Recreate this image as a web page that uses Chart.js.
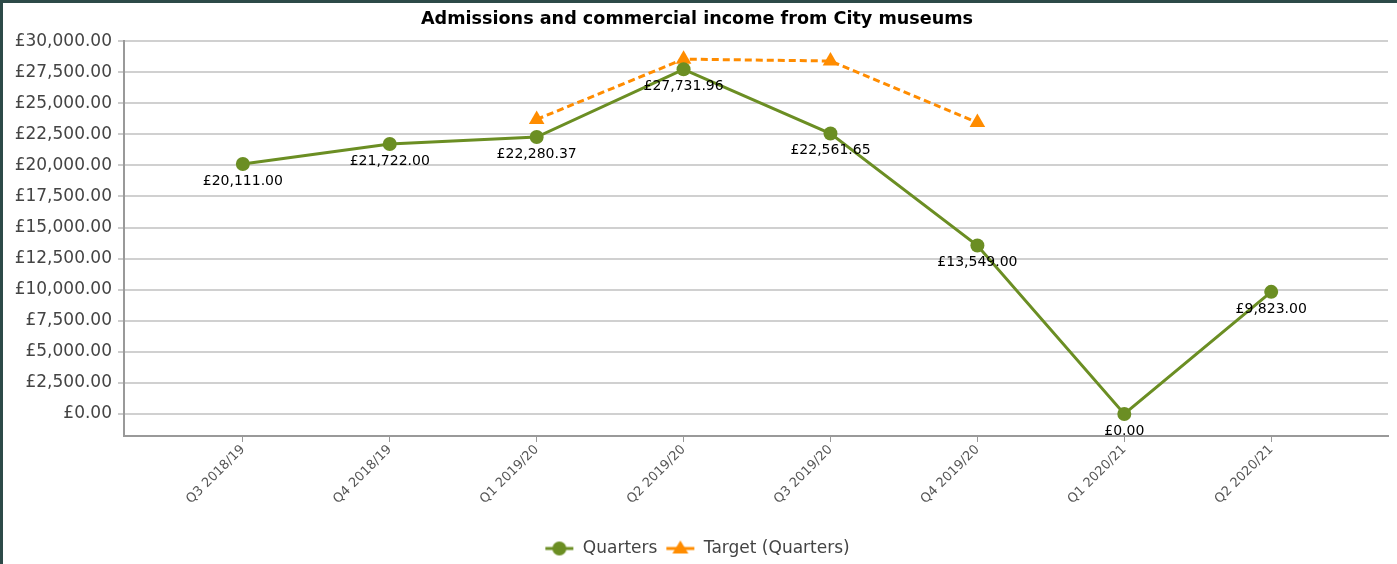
<!DOCTYPE html>
<html>
<head>
<meta charset="utf-8">
<script src="https://cdn.jsdelivr.net/npm/chart.js@4.4.1/dist/chart.umd.min.js"></script>
<style>
    html, body { margin: 0; padding: 0; background: #fff; }
    #caixa { position: relative; width: 1397px; height: 564px; }
    #caixa canvas { position: absolute; left: 0; top: 0; }
    #moldura { position: absolute; left: 0; top: 0; width: 1397px; height: 564px;
        border-left: 3px solid #2d4a48; border-top: 3px solid #2d4a48; box-sizing: border-box; pointer-events: none; }
</style>
</head>
<body>
<div id="caixa">
    <canvas id="grafico" width="1397" height="564"></canvas>
    <div id="moldura"></div>
</div>
<script>
const trimestres = ["Q3 2018/19", "Q4 2018/19", "Q1 2019/20", "Q2 2019/20", "Q3 2019/20", "Q4 2019/20", "Q1 2020/21", "Q2 2020/21"];
const receitas = [20111.00, 21722.00, 22280.37, 27731.96, 22561.65, 13549.00, 0.00, 9823.00];
const metas = [null, null, 23700, 28550, 28400, 23450, null, null];
const marcasY = [0, 2500, 5000, 7500, 10000, 12500, 15000, 17500, 20000, 22500, 25000, 27500, 30000];

const verde = "#6b8e23";
const laranja = "#ff8c00";
const fonte = "'DejaVu Sans', Verdana, sans-serif";

function libra(v) {
    return "£" + Number(v).toLocaleString("en-GB", { minimumFractionDigits: 2, maximumFractionDigits: 2 });
}

// icone da legenda: linha com marcador no meio
function iconeLegenda(cor, tipo) {
    const c = document.createElement("canvas");
    c.width = 30; c.height = 18;
    const ctx = c.getContext("2d");
    ctx.strokeStyle = cor;
    ctx.lineWidth = 3;
    ctx.beginPath();
    ctx.moveTo(1, 9); ctx.lineTo(29, 9);
    ctx.stroke();
    ctx.fillStyle = cor;
    ctx.beginPath();
    if (tipo === "circulo") {
        ctx.arc(15, 9, 7, 0, Math.PI * 2);
    } else {
        ctx.moveTo(15, 1); ctx.lineTo(23, 14); ctx.lineTo(7, 14); ctx.closePath();
    }
    ctx.fill();
    return c;
}
const icones = [iconeLegenda(verde, "circulo"), iconeLegenda(laranja, "triangulo")];

const pontos = (lista) => lista.map((v, i) => ({ x: i, y: v }));

// rotulos de valor abaixo dos pontos verdes
const rotulosValor = {
    id: "rotulosValor",
    afterLayout(chart) {
        // desce a legenda um pouco
        chart.legend.top += 3;
        chart.legend.bottom += 3;
    },
    afterDatasetsDraw(chart) {
        const ctx = chart.ctx;
        const area = chart.chartArea;
        const meta = chart.getDatasetMeta(0);
        ctx.save();
        ctx.beginPath();
        ctx.rect(area.left, area.top, area.right - area.left, area.bottom - area.top);
        ctx.clip();
        ctx.font = "14px " + fonte;
        ctx.fillStyle = "#000";
        ctx.textAlign = "center";
        ctx.textBaseline = "middle";
        meta.data.forEach((p, i) => {
            ctx.fillText(libra(receitas[i]), p.x, p.y + 17);
        });
        ctx.restore();
    }
};

new Chart(document.getElementById("grafico"), {
    type: "line",
    data: {
        datasets: [{
            label: "Quarters",
            data: pontos(receitas),
            borderColor: verde,
            backgroundColor: verde,
            borderWidth: 3,
            pointRadius: 7,
            pointHoverRadius: 7,
            pointBackgroundColor: verde,
            pointBorderWidth: 0,
            tension: 0
        }, {
            label: "Target (Quarters)",
            data: pontos(metas),
            borderColor: laranja,
            backgroundColor: laranja,
            borderWidth: 3,
            borderDash: [7, 4],
            pointStyle: "triangle",
            pointRadius: 9,
            pointHoverRadius: 9,
            pointBackgroundColor: laranja,
            pointBorderWidth: 0,
            tension: 0,
            spanGaps: false
        }]
    },
    options: {
        responsive: false,
        animation: false,
        events: [],
        layout: { padding: { left: 4, top: 3, right: 7, bottom: 0 } },
        plugins: {
            title: {
                display: true,
                text: "Admissions and commercial income from City museums",
                color: "#000",
                font: { family: fonte, size: 17.6, weight: "bold" },
                padding: { top: 6, bottom: 11 }
            },
            legend: {
                position: "bottom",
                labels: {
                    usePointStyle: true,
                    pointStyleWidth: 30,
                    boxHeight: 16,
                    padding: 8,
                    color: "#444",
                    font: { family: fonte, size: 17 },
                    generateLabels(chart) {
                        const itens = Chart.defaults.plugins.legend.labels.generateLabels(chart);
                        itens.forEach((it, i) => { it.pointStyle = icones[i]; });
                        return itens;
                    }
                }
            },
            tooltip: { enabled: false }
        },
        scales: {
            x: {
                type: "linear",
                min: -0.809,
                max: 7.795,
                afterBuildTicks(scale) {
                    scale.ticks = trimestres.map((_, i) => ({ value: i }));
                },
                afterFit(scale) { scale.height = 93; },
                ticks: {
                    autoSkip: false,
                    minRotation: 45,
                    maxRotation: 45,
                    padding: 0,
                    color: "#555",
                    font: { family: fonte, size: 13 },
                    callback: (v) => trimestres[v]
                },
                grid: { drawOnChartArea: false, tickLength: 6, color: "#999", lineWidth: 1 },
                border: { display: true, color: "#999", width: 2 }
            },
            y: {
                min: -1775,
                max: 30000,
                afterBuildTicks(scale) {
                    scale.ticks = marcasY.map(v => ({ value: v }));
                },
                afterFit(scale) { scale.width = 120; },
                ticks: {
                    color: "#444",
                    padding: 6,
                    font: { family: fonte, size: 17 },
                    callback: (v) => libra(v)
                },
                grid: { color: "#d0d0d0", lineWidth: 2, tickLength: 6, tickColor: "#999", tickWidth: 1 },
                border: { display: true, color: "#999", width: 2 }
            }
        }
    },
    plugins: [rotulosValor]
});
</script>
</body>
</html>
